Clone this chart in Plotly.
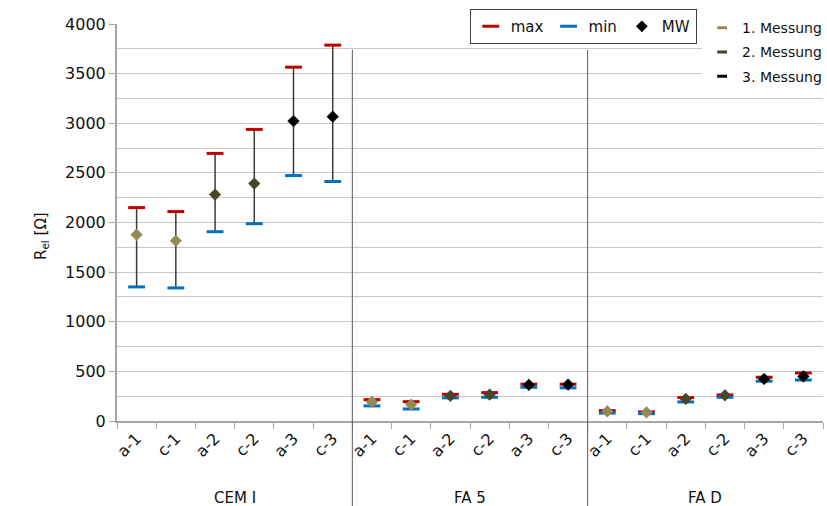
import plotly.graph_objects as go

groups = ["CEM I", "FA 5", "FA D"]
samples = ["a-1", "c-1", "a-2", "c-2", "a-3", "c-3"]
measurements = ["1. Messung", "2. Messung", "3. Messung"]
meas_colors = ["#948A54", "#4A452A", "#000000"]

r_max = [2150, 2110, 2696, 2938, 3565, 3787,
         215, 195, 269, 286, 371, 371,
         105, 92, 236, 263, 441, 484]
r_min = [1351, 1341, 1907, 1988, 2473, 2413,
         152, 121, 233, 239, 340, 334,
         80, 74, 192, 239, 401, 413]
r_mw = [1877, 1816, 2281, 2392, 3022, 3066,
        192, 165, 253, 266, 364, 367,
        97, 87, 222, 259, 423, 449]

keys = [f"{g}|{s}" for g in groups for s in samples]
tick_text = [s for g in groups for s in samples]
meas_idx = [int(s.split("-")[1]) - 1 for g in groups for s in samples]

FONT = "DejaVu Sans"
fig = go.Figure()

# vertical range lines
lx, ly = [], []
for k, lo, hi in zip(keys, r_min, r_max):
    lx += [k, k, None]
    ly += [lo, hi, None]
fig.add_trace(go.Scatter(x=lx, y=ly, mode="lines", line=dict(color="#3a3a3a", width=1.5),
                         showlegend=False, hoverinfo="skip"))

# caps
fig.add_trace(go.Scatter(x=keys, y=r_max, mode="markers", name="max", legend="legend",
                         marker=dict(symbol="line-ew", size=12, line=dict(color="#C00000", width=3))))
fig.add_trace(go.Scatter(x=keys, y=r_min, mode="markers", name="min", legend="legend",
                         marker=dict(symbol="line-ew", size=12, line=dict(color="#0070C0", width=3))))

# mean values per measurement
for m, (mname, mcol) in enumerate(zip(measurements, meas_colors)):
    xs = [k for k, i in zip(keys, meas_idx) if i == m]
    ys = [v for v, i in zip(r_mw, meas_idx) if i == m]
    fig.add_trace(go.Scatter(x=xs, y=ys, mode="markers", showlegend=False,
                             marker=dict(symbol="diamond", size=9, color=mcol,
                                         line=dict(color=mcol, width=0.5))))

# legend dummies
fig.add_trace(go.Scatter(x=[None], y=[None], mode="markers", name="MW", legend="legend",
                         marker=dict(symbol="diamond", size=9, color="#000000")))
for mname, mcol in zip(measurements, meas_colors):
    fig.add_trace(go.Scatter(x=[None], y=[None], mode="markers", name=mname, legend="legend2",
                             legendgroup=mname,
                             marker=dict(symbol="line-ew", size=7, line=dict(color=mcol, width=3))))

# group separators
for sep in [5.5, 11.5]:
    fig.add_shape(type="line", xref="x", yref="paper", x0=sep, x1=sep, y0=0.935, y1=-0.22,
                  line=dict(color="#595959", width=1))

# group labels
for gi, g in enumerate(groups):
    fig.add_annotation(x=gi * 6 + 2.5, xref="x", y=-0.195, yref="paper", text=g,
                       showarrow=False, yanchor="middle",
                       font=dict(family=FONT, size=15, color="#111"))

# y-axis title
fig.add_annotation(x=-0.123, xref="paper", y=0.465, yref="paper",
                   text="R<sub>el</sub> [Ω]", textangle=-90, showarrow=False,
                   font=dict(family=FONT, size=15, color="#111"))

fig.update_layout(
    width=827, height=506,
    margin=dict(l=117, r=4, t=24, b=85, autoexpand=False),
    plot_bgcolor="white", paper_bgcolor="white",
    font=dict(family=FONT, size=14, color="#111"),
    xaxis=dict(type="category", categoryorder="array", categoryarray=keys,
               tickvals=keys, ticktext=tick_text, tickangle=-45, automargin=False,
               tickson="boundaries", ticks="outside", ticklen=6, tickcolor="#A6A6A6",
               showline=True, linecolor="#A6A6A6", linewidth=2, showgrid=False,
               range=[-0.5, 17.5], tickfont=dict(family=FONT, size=16, color="#111")),
    yaxis=dict(range=[0, 4000], dtick=500, tick0=0, showgrid=True, gridcolor="#C8C8C8",
               gridwidth=1, showline=True, linecolor="#A6A6A6", linewidth=2, automargin=False,
               ticks="outside", ticklen=6, tickcolor="#A6A6A6", zeroline=False,
               minor=dict(dtick=250, showgrid=True, gridcolor="#C8C8C8", gridwidth=1),
               tickfont=dict(family=FONT, size=16, color="#111")),
    legend=dict(orientation="h", xref="container", yref="container",
                x=0.568, xanchor="left", y=0.982, yanchor="top",
                bgcolor="white", bordercolor="#404040", borderwidth=1,
                font=dict(family=FONT, size=15, color="#111"), itemwidth=30),
    legend2=dict(orientation="v", xref="container", yref="container",
                 x=0.849, xanchor="left", y=0.976, yanchor="top",
                 bgcolor="white", borderwidth=0, tracegroupgap=3,
                 font=dict(family=FONT, size=14, color="#111"), itemwidth=30),
)

fig.write_html("out.html")
